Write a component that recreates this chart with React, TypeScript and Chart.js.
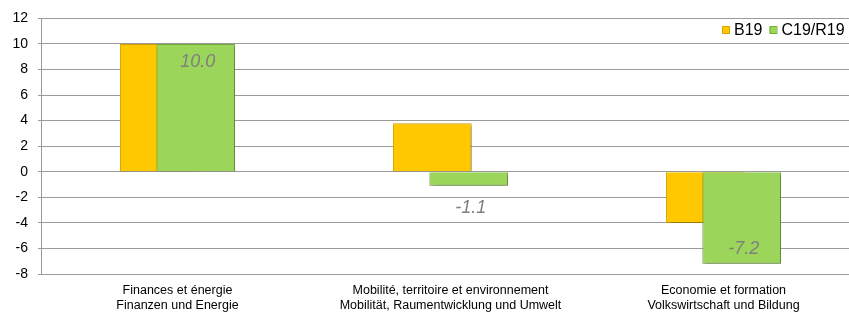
import React, { useEffect, useRef } from "react";
import { Chart, registerables } from "chart.js";

Chart.register(...registerables);

const categories: string[][] = [
  ["Finances et énergie", "Finanzen und Energie"],
  ["Mobilité, territoire et environnement", "Mobilität, Raumentwicklung und Umwelt"],
  ["Economie et formation", "Volkswirtschaft und Bildung"],
];
const seriesNames = ["B19", "C19/R19"];
const b19Values = [10.0, 3.8, -4.0];
const c19Values = [10.0, -1.1, -7.2];
const yMin = -8;
const yMax = 12;
const yStep = 2;

const YELLOW = "#FFC800";
const YELLOW_BORDER = "#D9A400";
const GREEN = "#9BD65A";
const GREEN_BORDER = "#78AE3E";
const GRID = "#9a9a9a";
const FONT = "'Liberation Sans', Arial, sans-serif";
const NARROW = "'Liberation Sans Narrow', 'Arial Narrow', 'Liberation Sans', Arial, sans-serif";

function setShadow(ctx: CanvasRenderingContext2D) {
  ctx.shadowColor = "rgba(0,0,0,0.35)";
  ctx.shadowBlur = 4;
  ctx.shadowOffsetX = 2;
  ctx.shadowOffsetY = 2;
}

// Draw B19 normally (with shadow), postpone C19/R19 so it sits on top.
const barsPlugin = {
  id: "barsOrder",
  beforeDatasetDraw(chart: any, args: any) {
    if (args.index === 1) return false;
    chart.ctx.save();
    setShadow(chart.ctx);
  },
  afterDatasetDraw(chart: any, args: any) {
    if (args.index === 1) return;
    chart.ctx.restore();
  },
  afterDatasetsDraw(chart: any) {
    const ctx = chart.ctx;
    const meta = chart.getDatasetMeta(1);
    ctx.save();
    const area = chart.chartArea;
    ctx.beginPath();
    ctx.rect(area.left, area.top - 5, area.right - area.left, area.bottom - area.top + 10);
    ctx.clip();
    setShadow(ctx);
    meta.data.forEach((el: any) => el.draw(ctx));
    ctx.restore();

    // value labels for C19/R19
    ctx.save();
    ctx.font = `italic 18px ${FONT}`;
    ctx.fillStyle = "#7f7f7f";
    ctx.textAlign = "center";
    ctx.textBaseline = "middle";
    meta.data.forEach((el: any, i: number) => {
      const v = c19Values[i];
      const h = Math.abs(el.base - el.y);
      let y: number;
      if (h > 30) {
        y = v >= 0 ? el.y + 18 : el.y - 15;
      } else {
        y = v >= 0 ? el.y - 22 : el.y + 22;
      }
      ctx.fillText(v.toFixed(1), el.x + 2, y);
    });
    ctx.restore();
  },
};

const legendPlugin = {
  id: "innerLegend",
  afterDraw(chart: any) {
    const ctx = chart.ctx;
    ctx.save();
    ctx.font = `16px ${FONT}`;
    ctx.textBaseline = "middle";
    ctx.textAlign = "left";
    const cy = 30;
    const colors = [
      [YELLOW, YELLOW_BORDER],
      [GREEN, GREEN_BORDER],
    ];
    let x = 722;
    seriesNames.forEach((name, i) => {
      ctx.fillStyle = colors[i][0];
      ctx.strokeStyle = colors[i][1];
      ctx.lineWidth = 1;
      ctx.fillRect(x, cy - 3.5, 7, 7);
      ctx.strokeRect(x + 0.5, cy - 3.5, 7, 7);
      ctx.fillStyle = "#000";
      ctx.fillText(name, x + 12, cy + 1);
      x += 12 + ctx.measureText(name).width + 7;
    });
    ctx.restore();
  },
};

export default function App() {
  const ref = useRef<HTMLCanvasElement>(null);

  useEffect(() => {
    document.body.style.margin = "0";
    document.body.style.overflow = "hidden";
    const canvas = ref.current!;
    const chart = new Chart(canvas, {
      type: "bar",
      data: {
        labels: categories,
        datasets: [
          {
            label: seriesNames[0],
            data: b19Values,
            backgroundColor: YELLOW,
            borderColor: YELLOW_BORDER,
            borderWidth: 1,
          },
          {
            label: seriesNames[1],
            data: c19Values,
            backgroundColor: GREEN,
            borderColor: GREEN_BORDER,
            borderWidth: 1,
          },
        ] as any,
      },
      options: {
        animation: false,
        responsive: false,
        maintainAspectRatio: false,
        datasets: {
          bar: {
            categoryPercentage: 0.267,
            barPercentage: 2.16,
          },
        },
        layout: { padding: { top: 16, left: 0, right: 0, bottom: 0 } },
        plugins: {
          legend: { display: false },
          tooltip: { enabled: false },
        },
        scales: {
          x: {
            type: "category",
            offset: true,
            grid: { display: false, drawTicks: false },
            border: { display: true, color: GRID, width: 1 },
            ticks: {
              font: { family: NARROW, size: 12.5 },
              color: "#000",
              padding: 9,
              maxRotation: 0,
              autoSkip: false,
            },
            afterFit(scale: any) {
              scale.height = 44;
            },
          },
          y: {
            min: yMin,
            max: yMax,
            ticks: {
              stepSize: yStep,
              font: { family: FONT, size: 14 },
              color: "#000",
              padding: 10,
            },
            grid: {
              color: GRID,
              tickLength: 3,
              lineWidth: 1,
            },
            border: { display: true, color: GRID, width: 1 },
            afterFit(scale: any) {
              scale.width = 41;
            },
          },
        } as any,
      } as any,
      plugins: [barsPlugin, legendPlugin],
    });
    return () => chart.destroy();
  }, []);

  return (
    <div style={{ width: 849, height: 318, overflow: "hidden", position: "relative" }}>
      <canvas ref={ref} width={860} height={318} style={{ display: "block", width: 860, height: 318 }} />
    </div>
  );
}
